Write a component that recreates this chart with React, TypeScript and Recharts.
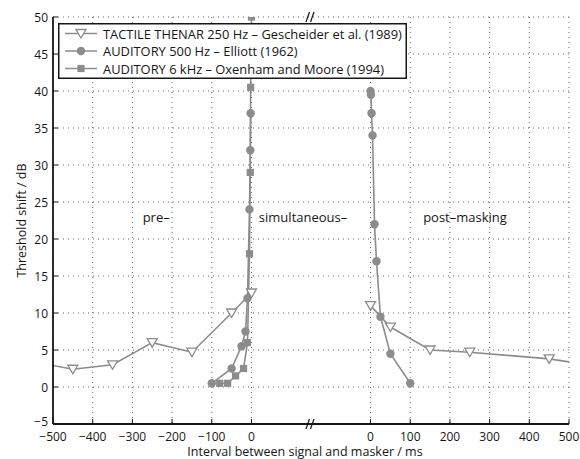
import React from 'react';
import { LineChart, Line, XAxis, YAxis, CartesianGrid, Legend, ReferenceDot } from 'recharts';

// ---- data (ms, dB) ----
const GAP = 300; // shift applied to the post-masking part of the broken x axis

const tactilePreX = [-550, -450, -350, -250, -150, -50, 0];
const tactilePreY = [3.4, 2.4, 3.0, 6.0, 4.7, 10, 12.7];
const tactilePostX = [0, 50, 150, 250, 450, 550];
const tactilePostY = [11, 8.1, 5.0, 4.7, 3.8, 3.0];

const aud500PreX = [-100, -50, -25, -15, -10, -5, -3, -2];
const aud500PreY = [0.5, 2.5, 5.5, 7.5, 12, 24, 32, 37];
const aud500PostX = [0, 1, 2.5, 5, 10, 15, 25, 50, 100];
const aud500PostY = [40, 39.5, 37, 34, 22, 17, 9.5, 4.5, 0.5];

const aud6kPreX = [-80, -60, -40, -20, -10, -5, -3, -2, 0];
const aud6kPreY = [0.5, 0.5, 1.5, 2.5, 6, 18, 29, 40.5, 50];

const xTicksPre = [-500, -400, -300, -200, -100, 0];
const xTicksPost = [0, 100, 200, 300, 400, 500];
const yTicks = [-5, 0, 5, 10, 15, 20, 25, 30, 35, 40, 45, 50];

const legendNames = [
  'TACTILE THENAR 250 Hz \u2013 Gescheider et al. (1989)',
  'AUDITORY 500 Hz \u2013 Elliott (1962)',
  'AUDITORY 6 kHz \u2013 Oxenham and Moore (1994)',
];

const annotations = [
  { text: 'pre\u2013', x: -240, y: 23 },
  { text: 'simultaneous\u2013', x: 130, y: 23 },
  { text: 'post\u2013masking', x: 238 + GAP, y: 23 },
];

// ---- helpers ----
const pre = (xs: number[], ys: number[]) => xs.map((v, i) => ({ x: v, y: ys[i] }));
const post = (xs: number[], ys: number[]) => xs.map((v, i) => ({ x: v + GAP, y: ys[i] }));

const tactilePre = pre(tactilePreX, tactilePreY);
const tactilePost = post(tactilePostX, tactilePostY);
const aud500Pre = pre(aud500PreX, aud500PreY);
const aud500Post = post(aud500PostX, aud500PostY);
const aud6kPre = pre(aud6kPreX, aud6kPreY);

const xTicks = [...xTicksPre, ...xTicksPost.map((v) => v + GAP)];

const GRAY = '#8c8c8c';
const INK = '#161616';
const FONT = '"Open Sans", "DejaVu Sans", sans-serif';

const fmt = (v: number) => (v < 0 ? '\u2212' + Math.abs(v) : String(v));
const fmtX = (v: number) => fmt(v > 0 ? v - GAP : v);

const triPath = (cx: number, cy: number) =>
  `M${cx - 5},${cy - 4} L${cx + 5},${cy - 4} L${cx},${cy + 4.5} Z`;

const TriDot = (p: any) => {
  const { cx, cy, index } = p;
  if (cx == null || cy == null) return <g key={index} />;
  return <path key={index} d={triPath(cx, cy)} fill="#fff" stroke={GRAY} strokeWidth={1.3} />;
};
const CircDot = (p: any) => {
  const { cx, cy, index } = p;
  if (cx == null || cy == null) return <g key={index} />;
  return <circle key={index} cx={cx} cy={cy} r={4.2} fill={GRAY} />;
};
const SqDot = (p: any) => {
  const { cx, cy, index } = p;
  if (cx == null || cy == null) return <g key={index} />;
  return <rect key={index} x={cx - 3.6} y={cy - 3.6} width={7.2} height={7.2} fill={GRAY} />;
};

const YTick = (p: any) => {
  const { x, y, payload } = p;
  const v = payload.value;
  const shift = v === -5 ? -3 : 0;
  return (
    <text x={x} y={y + shift} textAnchor="end" dominantBaseline="central" fontSize={12} fill={INK} fontFamily={FONT}>
      {fmt(v)}
    </text>
  );
};

const BreakMark = (p: any) => {
  const { cx, cy } = p;
  if (cx == null || cy == null) return <g />;
  return (
    <g stroke={INK} strokeWidth={1.2}>
      <line x1={cx - 5} y1={cy + 5} x2={cx - 1.5} y2={cy - 5} />
      <line x1={cx - 0.5} y1={cy + 5} x2={cx + 3} y2={cy - 5} />
    </g>
  );
};

const makeAnnot = (text: string) => (p: any) => {
  const { cx, cy } = p;
  if (cx == null || cy == null) return <g />;
  return (
    <text x={cx} y={cy} textAnchor="middle" dominantBaseline="central" fontSize={13} fill={INK} fontFamily={FONT}>
      {text}
    </text>
  );
};

const LegendBox = () => {
  const rows = [10.5, 28, 45.5];
  const markers = [
    (y: number) => <path d={triPath(23, y)} fill="#fff" stroke={GRAY} strokeWidth={1.3} />,
    (y: number) => <circle cx={23} cy={y} r={4.2} fill={GRAY} />,
    (y: number) => <rect x={23 - 3.6} y={y - 3.6} width={7.2} height={7.2} fill={GRAY} />,
  ];
  return (
    <svg width={349} height={56} style={{ display: 'block' }}>
      <rect x={0.75} y={0.75} width={347.5} height={54.5} fill="#fff" stroke={INK} strokeWidth={1.5} />
      {rows.map((y, i) => (
        <g key={i}>
          <line x1={7} x2={39} y1={y} y2={y} stroke={GRAY} strokeWidth={1.5} />
          {markers[i](y)}
          <text x={45} y={y} dominantBaseline="central" fontSize={12.9} fill={INK} fontFamily={FONT}>
            {legendNames[i]}
          </text>
        </g>
      ))}
    </svg>
  );
};

export default function App() {
  const tickStyle = { fontSize: 12, fill: INK, fontFamily: FONT };
  return (
    <div style={{ position: 'absolute', left: 0, top: 0, width: 580, height: 459, background: '#fff', fontFamily: FONT }}>
      <LineChart width={580} height={459} margin={{ top: 17, right: 11, bottom: 0, left: 0 }}>
        <CartesianGrid stroke="#666" strokeDasharray="1 4" strokeWidth={1} xAxisId={0} yAxisId={0} />
        <XAxis
          xAxisId={0}
          type="number"
          dataKey="x"
          domain={[-500, 500 + GAP]}
          allowDataOverflow
          ticks={xTicks}
          tickFormatter={fmtX}
          interval={0}
          height={35}
          tickSize={-5}
          tickMargin={13}
          tick={tickStyle}
          axisLine={{ stroke: INK, strokeWidth: 1.8 }}
          tickLine={{ stroke: INK, strokeWidth: 1 }}
          label={{ value: 'Interval between signal and masker / ms', position: 'insideBottom', offset: 3, dx: -6, style: { fontSize: 12.5, fill: INK, fontFamily: FONT } }}
        />
        <XAxis
          xAxisId="top"
          orientation="top"
          type="number"
          dataKey="x"
          domain={[-500, 500 + GAP]}
          allowDataOverflow
          ticks={xTicks}
          interval={0}
          height={0}
          tickSize={-5}
          tick={false}
          axisLine={{ stroke: INK, strokeWidth: 1.8 }}
          tickLine={{ stroke: INK, strokeWidth: 1 }}
        />
        <YAxis
          yAxisId={0}
          type="number"
          domain={[-5, 50]}
          allowDataOverflow
          ticks={yTicks}
          interval={0}
          width={53}
          tickSize={-5}
          tickMargin={10}
          tick={YTick}
          axisLine={{ stroke: INK, strokeWidth: 1.8 }}
          tickLine={{ stroke: INK, strokeWidth: 1 }}
          label={{ value: 'Threshold shift / dB', angle: -90, position: 'insideLeft', offset: 22, style: { textAnchor: 'middle', fontSize: 12.5, fill: INK, fontFamily: FONT } }}
        />
        <YAxis
          yAxisId="right"
          orientation="right"
          type="number"
          domain={[-5, 50]}
          allowDataOverflow
          ticks={yTicks}
          interval={0}
          width={0}
          tickSize={-5}
          tick={false}
          axisLine={{ stroke: INK, strokeWidth: 1.8 }}
          tickLine={{ stroke: INK, strokeWidth: 1 }}
        />

        <Line data={aud6kPre} dataKey="y" xAxisId={0} yAxisId={0} stroke={GRAY} strokeWidth={1.6} dot={SqDot} isAnimationActive={false} />
        <Line data={aud500Pre} dataKey="y" xAxisId={0} yAxisId={0} stroke={GRAY} strokeWidth={1.6} dot={CircDot} isAnimationActive={false} />
        <Line data={aud500Post} dataKey="y" xAxisId={0} yAxisId={0} stroke={GRAY} strokeWidth={1.6} dot={CircDot} isAnimationActive={false} />
        <Line data={tactilePre} dataKey="y" xAxisId={0} yAxisId={0} stroke={GRAY} strokeWidth={1.6} dot={TriDot} isAnimationActive={false} />
        <Line data={tactilePost} dataKey="y" xAxisId={0} yAxisId={0} stroke={GRAY} strokeWidth={1.6} dot={TriDot} isAnimationActive={false} />

        {annotations.map((a, i) => (
          <ReferenceDot key={'a' + i} x={a.x} y={a.y} xAxisId={0} yAxisId={0} r={0} ifOverflow="visible" shape={makeAnnot(a.text)} />
        ))}
        <ReferenceDot x={150} y={-5} xAxisId={0} yAxisId={0} ifOverflow="visible" shape={BreakMark} />
        <ReferenceDot x={150} y={50} xAxisId={0} yAxisId={0} ifOverflow="visible" shape={BreakMark} />

        <Legend
          layout="vertical"
          align="center"
          verticalAlign="middle"
          wrapperStyle={{ position: 'absolute', left: 58, top: 23, width: 349, height: 56 }}
          content={() => <LegendBox />}
        />
      </LineChart>
    </div>
  );
}
